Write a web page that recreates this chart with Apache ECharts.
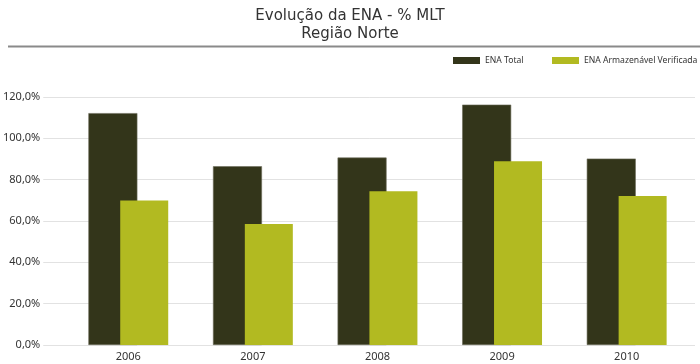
<!DOCTYPE html>
<html><head><meta charset="utf-8">
<script src="https://cdn.jsdelivr.net/npm/echarts@6/dist/echarts.min.js"></script>
<style>html,body{margin:0;padding:0;background:#fff}#c{width:700px;height:364px}</style>
</head><body><div id="c"></div>
<script>
var categories = ['2006', '2007', '2008', '2009', '2010'];
var enaTotal = [112.2, 86.5, 90.7, 116.3, 90.2];
var enaArmazenavel = [69.9, 58.5, 74.4, 88.9, 72.1];
var seriesNames = ['ENA Total', 'ENA Armazenável Verificada'];
var titleLines = ['Evolução da ENA - % MLT', 'Região Norte'];
var yMin = 0, yMax = 120, yStep = 20;

var chart = echarts.init(document.getElementById('c'), null, {renderer: 'canvas'});
var font = 'DejaVu Sans, Verdana, sans-serif';
var font2 = 'Noto Sans, sans-serif';
var legendText = {fontFamily: font2, fontSize: 8.6, color: '#333'};
chart.setOption({
  animation: false,
  textStyle: {fontFamily: font},
  title: {
    text: titleLines.join('\n'), left: 'center', top: 2,
    textStyle: {fontFamily: font, fontSize: 15, fontWeight: 'normal', color: '#333', lineHeight: 18}
  },
  graphic: [{type: 'line', shape: {x1: 8, y1: 46.5, x2: 700, y2: 46.5}, style: {stroke: '#8a8a8a', lineWidth: 2}}],
  legend: [
    {left: 453, top: 56, itemWidth: 27, itemHeight: 7, icon: 'rect', padding: 0, itemGap: 5,
     itemStyle: {borderWidth: 0}, textStyle: legendText, data: [seriesNames[0]]},
    {left: 552, top: 56, itemWidth: 27, itemHeight: 7, icon: 'rect', padding: 0, itemGap: 5,
     itemStyle: {borderWidth: 0}, textStyle: legendText, data: [seriesNames[1]]}
  ],
  grid: [
    {left: 40, right: 5, top: 97, bottom: 19},
    {left: 66, right: 11, top: 97, bottom: 19}
  ],
  xAxis: [
    {gridIndex: 0, type: 'category', data: categories, show: false},
    {gridIndex: 1, type: 'category', data: categories,
     axisLine: {show: false}, axisTick: {show: false},
     axisLabel: {fontFamily: font2, fontSize: 11, color: '#333', margin: 6}}
  ],
  yAxis: [
    {gridIndex: 0, type: 'value', min: yMin, max: yMax, interval: yStep,
     axisLine: {show: false}, axisTick: {show: false},
     splitLine: {lineStyle: {color: '#e2e2e2', width: 1}},
     axisLabel: {fontFamily: font2, fontSize: 11, color: '#333', margin: 3,
       formatter: function (v) { return v.toFixed(1).replace('.', ',') + '%'; }}},
    {gridIndex: 1, type: 'value', min: yMin, max: yMax, interval: yStep, show: false}
  ],
  series: [
    {name: seriesNames[0], type: 'bar', xAxisIndex: 1, yAxisIndex: 1, data: enaTotal,
     barWidth: 49, barGap: '-35%',
     itemStyle: {color: '#33351a', borderColor: '#6b6b5a', borderWidth: 0.6}},
    {name: seriesNames[1], type: 'bar', xAxisIndex: 1, yAxisIndex: 1, data: enaArmazenavel,
     barWidth: 48, barGap: '-35%',
     itemStyle: {color: '#b2ba21'}}
  ]
});
</script></body></html>
